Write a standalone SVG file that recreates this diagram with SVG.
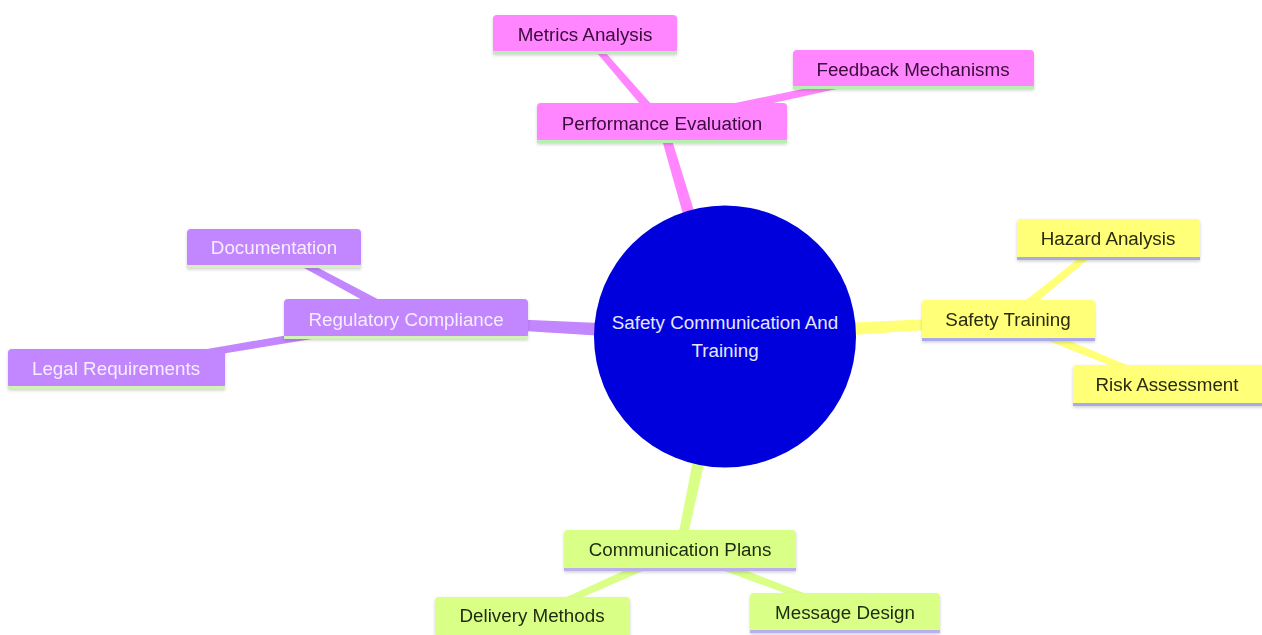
<svg xmlns="http://www.w3.org/2000/svg" width="1262" height="635" viewBox="0 0 1262 635">
<style>
text{font-family:"Liberation Sans",Arial,sans-serif;font-size:18.8px;text-anchor:middle;dominant-baseline:central}
.pk{fill:#ff86ff}
.pu{fill:#c286ff}
.ye{fill:#ffff78}
.gr{fill:#d9ff86}
.lpk{fill:#b6efb0}.lpu{fill:#d2f2b8}.lye{fill:#a9a9ec}.lgr{fill:#bbb0ea}
.tpk{fill:#3a0a3a}.tpu{fill:#f6eeff}.tye{fill:#2a2a10}.tgr{fill:#1f2a10}
</style>
<defs>
<filter id="sh" x="-10%" y="-20%" width="120%" height="150%">
<feDropShadow dx="0" dy="1.5" stdDeviation="1.5" flood-color="#000" flood-opacity="0.18"/>
</filter>
</defs>
<rect width="1262" height="635" fill="#ffffff"/>
<g id="connectors">
<polygon class="pk" points="732.2,333.9 666.3,121.7 657.7,124.3 717.8,338.1"/>
<polygon class="pk" points="665.4,120.1 587.3,32.0 582.7,36.0 658.6,125.9"/>
<polygon class="pk" points="663.0,127.4 913.6,71.9 912.4,66.1 661.0,118.6"/>
<polygon class="pu" points="725.4,328.5 406.2,314.5 405.8,323.5 724.6,343.5"/>
<polygon class="pu" points="408.1,315.0 275.4,245.4 272.6,250.6 403.9,323.0"/>
<polygon class="pu" points="405.3,314.6 115.5,365.0 116.5,371.0 406.8,323.4"/>
<polygon class="ye" points="725.4,343.5 1008.3,324.5 1007.8,315.5 724.6,328.5"/>
<polygon class="ye" points="1010.8,323.5 1109.9,241.3 1106.1,236.7 1005.2,316.5"/>
<polygon class="ye" points="1006.3,324.2 1165.9,387.8 1168.1,382.2 1009.7,315.8"/>
<polygon class="gr" points="717.7,334.5 675.6,549.1 684.4,550.9 732.3,337.5"/>
<polygon class="gr" points="678.2,545.9 530.8,613.3 533.2,618.7 681.8,554.1"/>
<polygon class="gr" points="678.4,554.2 843.9,614.8 846.1,609.2 681.6,545.8"/>
</g>
<g id="root">
<circle cx="725" cy="336.5" r="131" fill="#0000dc"/>
<text x="725" y="322" fill="#e6e6ff">Safety Communication And</text>
<text x="725" y="350" fill="#e6e6ff">Training</text>
</g>
<g id="performance-evaluation" filter="url(#sh)">
<rect class="pk" x="537" y="103" width="250" height="39" rx="4"/>
<rect class="lpk" x="537" y="140" width="250" height="3"/>
<text class="tpk" x="662" y="123">Performance Evaluation</text>
</g>
<g id="metrics-analysis" filter="url(#sh)">
<rect class="pk" x="493" y="15" width="184" height="38" rx="4"/>
<rect class="lpk" x="493" y="51" width="184" height="3"/>
<text class="tpk" x="585" y="34">Metrics Analysis</text>
</g>
<g id="feedback-mechanisms" filter="url(#sh)">
<rect class="pk" x="793" y="50" width="241" height="38" rx="4"/>
<rect class="lpk" x="793" y="86" width="241" height="3"/>
<text class="tpk" x="913" y="69">Feedback Mechanisms</text>
</g>
<g id="regulatory-compliance" filter="url(#sh)">
<rect class="pu" x="284" y="299" width="244" height="39" rx="4"/>
<rect class="lpu" x="284" y="336" width="244" height="3"/>
<text class="tpu" x="406" y="319">Regulatory Compliance</text>
</g>
<g id="documentation" filter="url(#sh)">
<rect class="pu" x="187" y="229" width="174" height="38" rx="4"/>
<rect class="lpu" x="187" y="265" width="174" height="3"/>
<text class="tpu" x="274" y="247">Documentation</text>
</g>
<g id="legal-requirements" filter="url(#sh)">
<rect class="pu" x="8" y="349" width="217" height="39" rx="4"/>
<rect class="lpu" x="8" y="386" width="217" height="3"/>
<text class="tpu" x="116" y="368">Legal Requirements</text>
</g>
<g id="safety-training" filter="url(#sh)">
<rect class="ye" x="922" y="300" width="173" height="40" rx="4"/>
<rect class="lye" x="922" y="338" width="173" height="3"/>
<text class="tye" x="1008" y="319">Safety Training</text>
</g>
<g id="hazard-analysis" filter="url(#sh)">
<rect class="ye" x="1017" y="219" width="183" height="40" rx="4"/>
<rect class="lye" x="1017" y="257" width="183" height="3"/>
<text class="tye" x="1108" y="238">Hazard Analysis</text>
</g>
<g id="risk-assessment" filter="url(#sh)">
<rect class="ye" x="1073" y="365" width="192" height="40" rx="4"/>
<rect class="lye" x="1073" y="403" width="192" height="3"/>
<text class="tye" x="1167" y="384">Risk Assessment</text>
</g>
<g id="communication-plans" filter="url(#sh)">
<rect class="gr" x="564" y="530" width="232" height="40" rx="4"/>
<rect class="lgr" x="564" y="568" width="232" height="3"/>
<text class="tgr" x="680" y="549">Communication Plans</text>
</g>
<g id="delivery-methods" filter="url(#sh)">
<rect class="gr" x="435" y="597" width="195" height="40" rx="4"/>
<rect class="lgr" x="435" y="635" width="195" height="3"/>
<text class="tgr" x="532" y="615">Delivery Methods</text>
</g>
<g id="message-design" filter="url(#sh)">
<rect class="gr" x="750" y="593" width="190" height="39" rx="4"/>
<rect class="lgr" x="750" y="630" width="190" height="3"/>
<text class="tgr" x="845" y="612">Message Design</text>
</g>
</svg>
